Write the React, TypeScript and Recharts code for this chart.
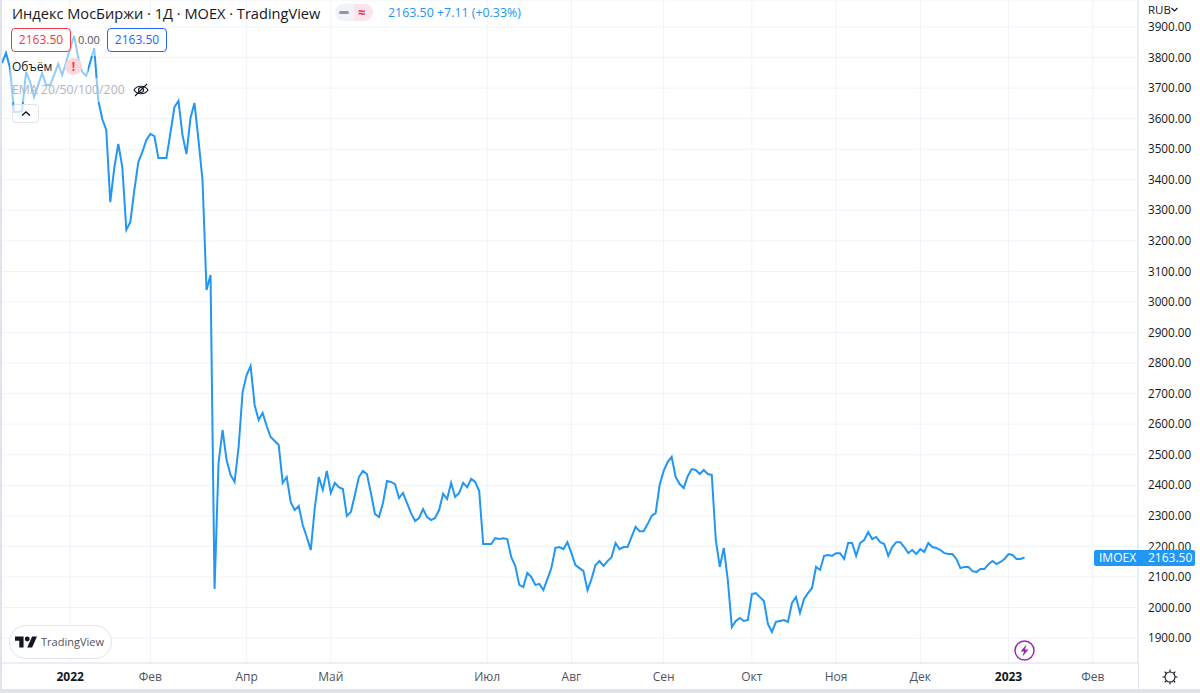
import { CartesianGrid, Line, LineChart, XAxis, YAxis } from "recharts";

// daily close of IMOEX
const closes = [
  3782, 3815, 3766, 3622, 3622, 3625, 3753, 3720, 3671, 3710, 3749, 3710, 3710, 3743, 3779, 3743,
  3785, 3831, 3871, 3799, 3753, 3740, 3785, 3831, 3661, 3599, 3563, 3327, 3439, 3517, 3442, 3236,
  3262, 3366, 3458, 3491, 3530, 3550, 3543, 3471, 3471, 3471, 3553, 3638, 3658, 3547, 3484, 3602,
  3651, 3530, 3399, 3039, 3088, 2061, 2473, 2581, 2483, 2434, 2411, 2525, 2705, 2761, 2790, 2663,
  2614, 2637, 2594, 2558, 2545, 2532, 2408, 2427, 2345, 2319, 2332, 2270, 2231, 2188, 2326, 2427,
  2385, 2447, 2375, 2408, 2394, 2388, 2300, 2313, 2368, 2427, 2447, 2437, 2375, 2306, 2296, 2342,
  2414, 2411, 2404, 2358, 2375, 2342, 2309, 2283, 2293, 2322, 2296, 2286, 2293, 2319, 2372, 2355,
  2408, 2362, 2375, 2408, 2394, 2421, 2411, 2381, 2208, 2208, 2208, 2227, 2224, 2227, 2224, 2165,
  2136, 2074, 2067, 2113, 2100, 2074, 2077, 2057, 2093, 2129, 2195, 2198, 2191, 2214, 2178, 2139,
  2129, 2119, 2057, 2093, 2139, 2152, 2136, 2152, 2165, 2211, 2191, 2198, 2198, 2231, 2264, 2250,
  2250, 2273, 2300, 2309, 2401, 2447, 2476, 2493, 2427, 2404, 2391, 2430, 2453, 2450, 2437, 2450,
  2437, 2434, 2221, 2133, 2195, 2090, 1936, 1956, 1966, 1956, 1959, 2044, 2047, 2034, 2021, 1946,
  1920, 1953, 1956, 1959, 1953, 2015, 2034, 1982, 2028, 2047, 2064, 2133, 2123, 2169, 2172, 2169,
  2178, 2178, 2159, 2211, 2211, 2169, 2211, 2221, 2247, 2224, 2231, 2214, 2208, 2169, 2198, 2214,
  2214, 2198, 2178, 2188, 2175, 2191, 2182, 2211, 2198, 2195, 2188, 2178, 2175, 2175, 2159, 2129,
  2133, 2133, 2119, 2116, 2126, 2126, 2142, 2152, 2142, 2149, 2159, 2175, 2172, 2159, 2159, 2163.5,
];
const monthTicks = [17, 37, 61, 82, 121, 142, 165, 187, 208, 229, 251, 272];
const monthLabels = ["2022", "Фев", "Апр", "Май", "Июл", "Авг", "Сен", "Окт", "Ноя", "Дек", "2023", "Фев"];
const priceTicks = [1900, 2000, 2100, 2200, 2300, 2400, 2500, 2600, 2700, 2800, 2900, 3000, 3100, 3200, 3300, 3400, 3500, 3600, 3700, 3800, 3900];

const data = closes.map((close, index) => ({ index, close }));

const FONT = "'Open Sans', sans-serif";
const BLUE = "#2196f3";

function MonthTick({ x, y, payload }: any) {
  const label = monthLabels[monthTicks.indexOf(payload.value)];
  const isYear = label.length === 4;
  return (
    <text x={x} y={y + 10} textAnchor="middle" fontFamily={FONT} fontSize={12} fontWeight={isYear ? 700 : 400} fill={isYear ? "#131722" : "#50535e"}>
      {label}
    </text>
  );
}

function box(left: number, top: number, width: number, height: number, extra: any = {}) {
  return { position: "absolute", left, top, width, height, boxSizing: "border-box", ...extra } as any;
}

function label(left: number, top: number, size: number, color: string, extra: any = {}) {
  return { position: "absolute", left, top, fontSize: size, color, whiteSpace: "nowrap", lineHeight: "16px", ...extra } as any;
}

export default function App() {
  return (
    <div style={{ position: "absolute", left: 0, top: 0, width: 1200, height: 693, background: "#fff", overflow: "hidden", fontFamily: FONT }}>
      <LineChart width={1200} height={690} data={data} margin={{ top: 0, right: 0, bottom: 0, left: 0 }}>
        <CartesianGrid stroke="#f0f3fa" />
        <XAxis
          dataKey="index"
          type="number"
          domain={[-0.5, 283.29]}
          allowDataOverflow
          ticks={monthTicks}
          height={27}
          interval={0}
          stroke="#e0e3eb"
          tickLine={false}
          tick={<MonthTick />}
        />
        <YAxis
          orientation="right"
          type="number"
          domain={[1818.4, 3988.4]}
          allowDataOverflow
          ticks={priceTicks}
          width={62}
          interval={0}
          stroke="#e0e3eb"
          tickLine={false}
          tickMargin={4}
          tick={{ fontFamily: FONT, fontSize: 11.7, fill: "#131722" }}
          tickFormatter={(v: number) => v.toFixed(2)}
        />
        <Line type="linear" dataKey="close" stroke={BLUE} strokeWidth={2} dot={false} isAnimationActive={false} />
      </LineChart>

      {/* frame strips */}
      <div style={box(0, 0, 2, 693, { background: "#e0e3eb" })} />
      <div style={box(0, 689, 1200, 4, { background: "#e0e3eb" })} />
      <div style={box(1138, 663, 1, 26, { background: "#e0e3eb" })} />

      {/* legend backdrop, it washes out the line under it */}
      <div style={box(10, 24, 160, 32, { background: "rgba(255,255,255,.5)" })} />
      <div style={box(10, 56, 78, 22, { background: "rgba(255,255,255,.5)" })} />
      <div style={box(10, 78, 143, 24, { background: "rgba(255,255,255,.5)" })} />

      <div style={label(12, 5, 14.6, "#131722")}>Индекс МосБиржи · 1Д · MOEX · TradingView</div>
      <div style={box(335, 4, 19, 17, { background: "#f0f3fa", borderRadius: "9px 0 0 9px" })} />
      <div style={box(354, 4, 19, 17, { background: "#fce4ec", borderRadius: "0 9px 9px 0" })} />
      <div style={box(339, 11, 10, 3, { background: "#9598a1", borderRadius: 2 })} />
      <div style={label(358, 4, 13, "#e91e63", { fontWeight: 700 })}>≈</div>
      <div style={label(388, 5, 12.4, BLUE)}>2163.50 +7.11 (+0.33%)</div>

      <div style={box(11, 28, 60, 24, { border: "1px solid #f23645", borderRadius: 4, background: "rgba(255,255,255,.8)", color: "#f23645", fontSize: 12, textAlign: "center", lineHeight: "22px" })}>2163.50</div>
      <div style={label(78, 32, 11, "#50535e")}>0.00</div>
      <div style={box(107, 28, 60, 24, { border: "1px solid #2962ff", borderRadius: 4, background: "rgba(255,255,255,.8)", color: "#2962ff", fontSize: 12, textAlign: "center", lineHeight: "22px" })}>2163.50</div>

      <div style={label(12, 59, 12, "#131722")}>Объём</div>
      <div style={box(65, 58, 17, 17, { background: "#fbd7dc", borderRadius: 9, color: "#f23645", fontSize: 12, fontWeight: 700, textAlign: "center", lineHeight: "17px" })}>!</div>
      <div style={label(12, 82, 12.3, "#b2b5be")}>EMA 20/50/100/200</div>
      <svg style={box(133, 82, 16, 16)} viewBox="0 0 16 16" fill="none" stroke="#131722" strokeWidth="1.1">
        <path d="M1 8c3-5 11-5 14 0c-3 5-11 5-14 0z" />
        <circle cx="8" cy="8" r="2.5" />
        <path d="M2 14L14 2" />
      </svg>
      <div style={box(12, 104, 27, 19, { border: "1px solid #e0e3eb", borderRadius: 4, background: "rgba(255,255,255,.75)" })}>
        <svg style={{ position: "absolute", left: 8, top: 5 }} width="10" height="7" viewBox="0 0 10 7" fill="none" stroke="#131722" strokeWidth="1.5">
          <path d="M1 5.5L5 2l4 3.5" />
        </svg>
      </div>

      {/* TradingView watermark */}
      <div style={box(9, 625, 103, 34, { border: "1px solid #e0e3eb", borderRadius: 17, background: "#fff" })} />
      <svg style={box(15, 636, 22, 12)} viewBox="0 0 36 18" fill="#131722">
        <path d="M14 18H7V7H0V0h14v18z" />
        <circle cx="20" cy="4" r="4" />
        <path d="M28 0h8l-8 18h-8l8-18z" />
      </svg>
      <div style={label(41, 634, 11, "#50535e")}>TradingView</div>

      {/* price tag */}
      <div style={box(1094, 550, 101, 16, { background: BLUE, borderRadius: 2 })} />
      <div style={label(1099, 550, 12, "#fff")}>IMOEX</div>
      <div style={label(1148, 550, 12, "#fff")}>2163.50</div>

      <div style={label(1148, 2, 11.5, "#131722")}>RUB</div>
      <svg style={box(1171, 7, 7, 5)} viewBox="0 0 7 5" fill="none" stroke="#131722" strokeWidth="1.2">
        <path d="M0.5 1L3.5 4l3-3" />
      </svg>

      <svg style={box(1014, 640, 21, 21)} viewBox="0 0 21 21" fill="none">
        <circle cx="10.5" cy="10.5" r="9.5" stroke="#9c27b0" strokeWidth="1.5" />
        <path d="M12.5 4.5L6.5 11.5h3.5l-1.5 5 6-7h-3.5z" fill="#9c27b0" />
      </svg>
      <svg style={box(1162, 669, 16, 16)} viewBox="0 0 16 16" fill="none" stroke="#131722" strokeWidth="1.1">
        <circle cx="8" cy="8" r="5" />
        <path d="M8 0.5v2.5M8 13v2.5M0.5 8H3M13 8h2.5M2.7 2.7l1.8 1.8M11.5 11.5l1.8 1.8M13.3 2.7l-1.8 1.8M4.5 11.5l-1.8 1.8" />
      </svg>
    </div>
  );
}
